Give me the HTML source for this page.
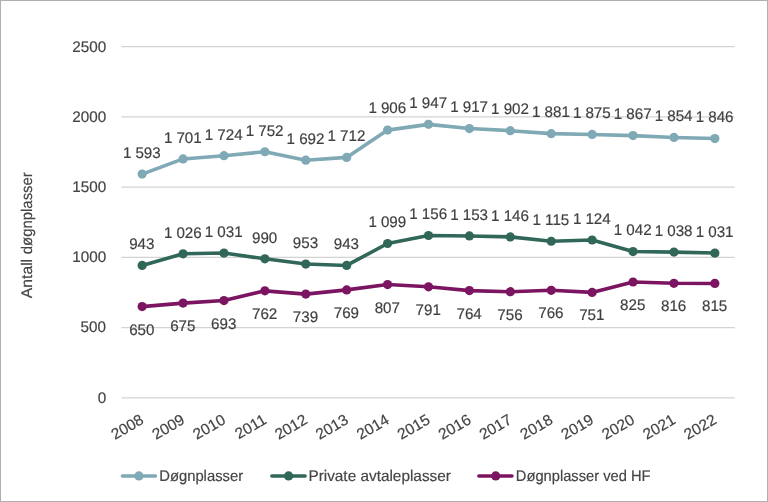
<!DOCTYPE html>
<html lang="no"><head><meta charset="utf-8"><title>Antall døgnplasser</title>
<style>html,body{margin:0;padding:0;background:#fff}body{width:768px;height:502px;overflow:hidden}svg{display:block}text{font-family:"Liberation Sans",sans-serif;stroke:#404040;stroke-width:0.18px}</style></head><body>
<svg text-rendering="geometricPrecision" width="768" height="502" viewBox="0 0 768 502">
<rect x="0.5" y="0.5" width="767" height="501" fill="#fff" stroke="#afafaf" stroke-width="1"/>
<g stroke="#d3d3d3" stroke-width="1.25">
<line x1="121.5" x2="734.8" y1="397.9" y2="397.9"/>
<line x1="121.5" x2="734.8" y1="327.64" y2="327.64"/>
<line x1="121.5" x2="734.8" y1="257.38" y2="257.38"/>
<line x1="121.5" x2="734.8" y1="187.12" y2="187.12"/>
<line x1="121.5" x2="734.8" y1="116.86" y2="116.86"/>
<line x1="121.5" x2="734.8" y1="46.6" y2="46.6"/>
</g>
<g font-size="15.4" fill="#454545" text-anchor="end">
<text transform="translate(106.2,403.0) scale(0.992,1)">0</text>
<text transform="translate(105.9,332.3) scale(0.992,1)">500</text>
<text transform="translate(106.2,261.9) scale(0.992,1)">1000</text>
<text transform="translate(106.2,192.2) scale(0.992,1)">1500</text>
<text transform="translate(106.2,122.0) scale(0.992,1)">2000</text>
<text transform="translate(106.2,51.7) scale(0.992,1)">2500</text>
</g>
<g font-size="15.4" fill="#454545" transform="translate(31.7,0) rotate(-90)">
<text x="-298.2" y="0" textLength="39.3" lengthAdjust="spacingAndGlyphs">Antall</text>
<text x="-254.2" y="0" textLength="82.0" lengthAdjust="spacingAndGlyphs">døgnplasser</text>
</g>
<g font-size="15.4" fill="#454545" text-anchor="end">
<text transform="translate(144.8,422.8) rotate(-30) scale(1.006,1)">2008</text>
<text transform="translate(185.8,422.8) rotate(-30) scale(1.006,1)">2009</text>
<text transform="translate(226.7,422.8) rotate(-30) scale(1.006,1)">2010</text>
<text transform="translate(267.6,422.8) rotate(-30) scale(1.006,1)">2011</text>
<text transform="translate(308.5,422.8) rotate(-30) scale(1.006,1)">2012</text>
<text transform="translate(349.4,422.8) rotate(-30) scale(1.006,1)">2013</text>
<text transform="translate(390.3,422.8) rotate(-30) scale(1.006,1)">2014</text>
<text transform="translate(431.2,422.8) rotate(-30) scale(1.006,1)">2015</text>
<text transform="translate(472.1,422.8) rotate(-30) scale(1.006,1)">2016</text>
<text transform="translate(513.0,422.8) rotate(-30) scale(1.006,1)">2017</text>
<text transform="translate(553.9,422.8) rotate(-30) scale(1.006,1)">2018</text>
<text transform="translate(594.8,422.8) rotate(-30) scale(1.006,1)">2019</text>
<text transform="translate(635.7,422.8) rotate(-30) scale(1.006,1)">2020</text>
<text transform="translate(676.6,422.8) rotate(-30) scale(1.006,1)">2021</text>
<text transform="translate(717.6,422.8) rotate(-30) scale(1.006,1)">2022</text>
</g>
<polyline points="142.15,174.10 183.06,158.93 223.96,155.69 264.87,151.76 305.78,160.19 346.69,157.38 387.59,130.12 428.50,124.36 469.41,128.57 510.31,130.68 551.22,133.63 592.13,134.47 633.04,135.60 673.94,137.43 714.85,138.55" fill="none" stroke="#7fa9b5" stroke-width="3.6" stroke-linejoin="round" stroke-linecap="round"/>
<g fill="#7fa9b5">
<circle cx="142.15" cy="174.10" r="4.6"/>
<circle cx="183.06" cy="158.93" r="4.6"/>
<circle cx="223.96" cy="155.69" r="4.6"/>
<circle cx="264.87" cy="151.76" r="4.6"/>
<circle cx="305.78" cy="160.19" r="4.6"/>
<circle cx="346.69" cy="157.38" r="4.6"/>
<circle cx="387.59" cy="130.12" r="4.6"/>
<circle cx="428.50" cy="124.36" r="4.6"/>
<circle cx="469.41" cy="128.57" r="4.6"/>
<circle cx="510.31" cy="130.68" r="4.6"/>
<circle cx="551.22" cy="133.63" r="4.6"/>
<circle cx="592.13" cy="134.47" r="4.6"/>
<circle cx="633.04" cy="135.60" r="4.6"/>
<circle cx="673.94" cy="137.43" r="4.6"/>
<circle cx="714.85" cy="138.55" r="4.6"/>
</g>
<polyline points="142.15,265.44 183.06,253.78 223.96,253.07 264.87,258.84 305.78,264.03 346.69,265.44 387.59,243.52 428.50,235.51 469.41,235.93 510.31,236.91 551.22,241.27 592.13,240.01 633.04,251.53 673.94,252.09 714.85,253.07" fill="none" stroke="#316759" stroke-width="3.6" stroke-linejoin="round" stroke-linecap="round"/>
<g fill="#316759">
<circle cx="142.15" cy="265.44" r="4.6"/>
<circle cx="183.06" cy="253.78" r="4.6"/>
<circle cx="223.96" cy="253.07" r="4.6"/>
<circle cx="264.87" cy="258.84" r="4.6"/>
<circle cx="305.78" cy="264.03" r="4.6"/>
<circle cx="346.69" cy="265.44" r="4.6"/>
<circle cx="387.59" cy="243.52" r="4.6"/>
<circle cx="428.50" cy="235.51" r="4.6"/>
<circle cx="469.41" cy="235.93" r="4.6"/>
<circle cx="510.31" cy="236.91" r="4.6"/>
<circle cx="551.22" cy="241.27" r="4.6"/>
<circle cx="592.13" cy="240.01" r="4.6"/>
<circle cx="633.04" cy="251.53" r="4.6"/>
<circle cx="673.94" cy="252.09" r="4.6"/>
<circle cx="714.85" cy="253.07" r="4.6"/>
</g>
<polyline points="142.15,306.61 183.06,303.10 223.96,300.57 264.87,290.87 305.78,294.11 346.69,289.89 387.59,284.55 428.50,286.80 469.41,290.59 510.31,291.72 551.22,290.31 592.13,292.42 633.04,282.02 673.94,283.29 714.85,283.43" fill="none" stroke="#7c1561" stroke-width="3.6" stroke-linejoin="round" stroke-linecap="round"/>
<g fill="#7c1561">
<circle cx="142.15" cy="306.61" r="4.6"/>
<circle cx="183.06" cy="303.10" r="4.6"/>
<circle cx="223.96" cy="300.57" r="4.6"/>
<circle cx="264.87" cy="290.87" r="4.6"/>
<circle cx="305.78" cy="294.11" r="4.6"/>
<circle cx="346.69" cy="289.89" r="4.6"/>
<circle cx="387.59" cy="284.55" r="4.6"/>
<circle cx="428.50" cy="286.80" r="4.6"/>
<circle cx="469.41" cy="290.59" r="4.6"/>
<circle cx="510.31" cy="291.72" r="4.6"/>
<circle cx="551.22" cy="290.31" r="4.6"/>
<circle cx="592.13" cy="292.42" r="4.6"/>
<circle cx="633.04" cy="282.02" r="4.6"/>
<circle cx="673.94" cy="283.29" r="4.6"/>
<circle cx="714.85" cy="283.43" r="4.6"/>
</g>
<g font-size="15.4" fill="#404040" text-anchor="middle" word-spacing="-0.1">
<text transform="translate(141.8,158.1) scale(0.985,1)">1 593</text>
<text transform="translate(182.8,142.9) scale(0.985,1)">1 701</text>
<text transform="translate(223.7,139.7) scale(0.985,1)">1 724</text>
<text transform="translate(264.6,135.5) scale(0.985,1)">1 752</text>
<text transform="translate(305.5,144.2) scale(0.985,1)">1 692</text>
<text transform="translate(346.4,141.4) scale(0.985,1)">1 712</text>
<text transform="translate(387.3,113.3) scale(0.985,1)">1 906</text>
<text transform="translate(428.2,108.4) scale(0.985,1)">1 947</text>
<text transform="translate(469.1,112.0) scale(0.985,1)">1 917</text>
<text transform="translate(510.0,114.2) scale(0.985,1)">1 902</text>
<text transform="translate(550.9,116.8) scale(0.985,1)">1 881</text>
<text transform="translate(591.8,118.0) scale(0.985,1)">1 875</text>
<text transform="translate(632.7,119.3) scale(0.985,1)">1 867</text>
<text transform="translate(673.6,121.1) scale(0.985,1)">1 854</text>
<text transform="translate(714.6,121.7) scale(0.985,1)">1 846</text>
<text transform="translate(141.8,249.4) scale(0.985,1)">943</text>
<text transform="translate(182.8,237.8) scale(0.985,1)">1 026</text>
<text transform="translate(223.7,237.1) scale(0.985,1)">1 031</text>
<text transform="translate(264.6,242.8) scale(0.985,1)">990</text>
<text transform="translate(305.5,248.0) scale(0.985,1)">953</text>
<text transform="translate(346.4,249.4) scale(0.985,1)">943</text>
<text transform="translate(387.3,226.7) scale(0.985,1)">1 099</text>
<text transform="translate(428.2,218.8) scale(0.985,1)">1 156</text>
<text transform="translate(469.1,219.6) scale(0.985,1)">1 153</text>
<text transform="translate(510.0,220.9) scale(0.985,1)">1 146</text>
<text transform="translate(550.9,224.8) scale(0.985,1)">1 115</text>
<text transform="translate(591.8,224.0) scale(0.985,1)">1 124</text>
<text transform="translate(632.7,234.9) scale(0.985,1)">1 042</text>
<text transform="translate(673.6,235.8) scale(0.985,1)">1 038</text>
<text transform="translate(714.6,237.1) scale(0.985,1)">1 031</text>
<text transform="translate(141.8,334.6) scale(0.985,1)">650</text>
<text transform="translate(182.8,331.1) scale(0.985,1)">675</text>
<text transform="translate(223.7,328.6) scale(0.985,1)">693</text>
<text transform="translate(264.6,318.9) scale(0.985,1)">762</text>
<text transform="translate(305.5,322.1) scale(0.985,1)">739</text>
<text transform="translate(346.4,317.9) scale(0.985,1)">769</text>
<text transform="translate(387.3,312.6) scale(0.985,1)">807</text>
<text transform="translate(428.2,314.8) scale(0.985,1)">791</text>
<text transform="translate(469.1,318.6) scale(0.985,1)">764</text>
<text transform="translate(510.0,319.7) scale(0.985,1)">756</text>
<text transform="translate(550.9,318.3) scale(0.985,1)">766</text>
<text transform="translate(591.8,320.4) scale(0.985,1)">751</text>
<text transform="translate(632.7,310.0) scale(0.985,1)">825</text>
<text transform="translate(673.6,311.3) scale(0.985,1)">816</text>
<text transform="translate(714.6,311.4) scale(0.985,1)">815</text>
</g>
<line x1="122.4" x2="155.5" y1="476" y2="476" stroke="#7fa9b5" stroke-width="3.4" stroke-linecap="round"/>
<circle cx="138.9" cy="475.9" r="4.6" fill="#7fa9b5"/>
<text x="159.2" y="481" font-size="15.4" fill="#454545" textLength="83.9" lengthAdjust="spacingAndGlyphs">Døgnplasser</text>
<line x1="271.8" x2="305.2" y1="476" y2="476" stroke="#316759" stroke-width="3.4" stroke-linecap="round"/>
<circle cx="288.6" cy="475.9" r="4.6" fill="#316759"/>
<text x="308.4" y="481" font-size="15.4" fill="#454545" textLength="142.5" lengthAdjust="spacingAndGlyphs">Private avtaleplasser</text>
<line x1="478.8" x2="512.0" y1="476" y2="476" stroke="#7c1561" stroke-width="3.4" stroke-linecap="round"/>
<circle cx="495.7" cy="475.9" r="4.6" fill="#7c1561"/>
<text x="515.8" y="481" font-size="15.4" fill="#454545" textLength="134.8" lengthAdjust="spacingAndGlyphs">Døgnplasser ved HF</text>
</svg></body></html>
